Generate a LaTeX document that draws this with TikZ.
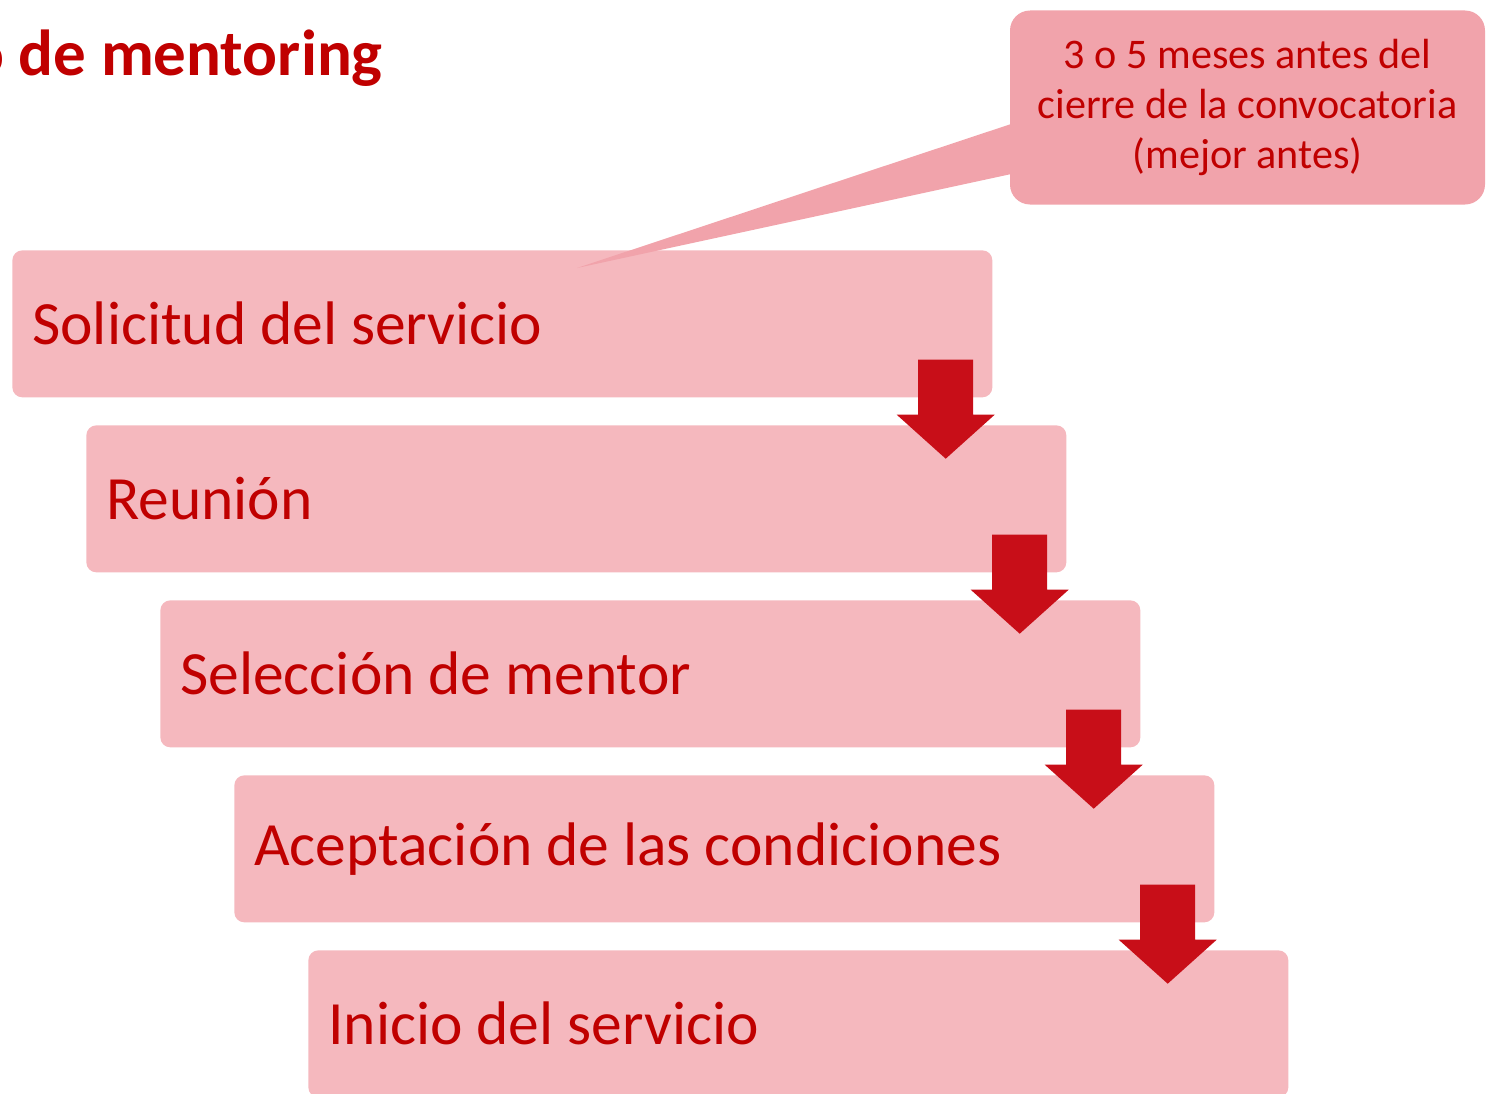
\documentclass[tikz,border=0pt]{standalone}
\usepackage{fontspec}
\setmainfont{Carlito}
\usepackage{xcolor}
\definecolor{MentorRed}{RGB}{192,0,0}
\definecolor{ArrowRed}{RGB}{200,14,24}
\definecolor{StagePink}{RGB}{245,184,190}
\definecolor{NotePink}{RGB}{241,163,171}
\usepackage{tikz}
\usetikzlibrary{calc, positioning}

\tikzset{
	stagebox/.style={fill=StagePink, text=MentorRed, rounded corners=0.2cm, anchor=north west,
		minimum width=19.6cm, minimum height=2.94cm, text width=18.8cm, inner xsep=0.4cm,
		align=flush left, font=\fontsize{35}{42}\selectfont},
	notebox/.style={fill=NotePink, text=MentorRed, rounded corners=0.4cm,
		minimum width=9.5cm, minimum height=3.88cm, align=center,
		font=\fontsize{24}{28.45}\selectfont},
	stepfill/.style={fill=ArrowRed}
}
\newcommand{\stepdown}[1]{\fill[stepfill] (#1) ++(-0.55,0) -- ++(1.1,0) -- ++(0,-1.1) -- ++(0.43,0) -- ++(-0.98,-0.88) -- ++(-0.98,0.88) -- ++(0.43,0) -- cycle;}

\begin{document}
\begin{tikzpicture}[scale=1, transform shape]
			\useasboundingbox (0,0) rectangle (29.72,-21.88);
			\clip (0,0) rectangle (29.72,-21.88);
			% title
			\node[anchor=base east, text=MentorRed, font=\fontsize{37}{44}\selectfont\bfseries, inner sep=0] (title) at (7.66,-1.5) {o de mentoring};
			% stages
			\node[stagebox] (s1) at (0.24,-5.0) {Solicitud del servicio};
			\node[stagebox] (s2) at (1.72,-8.5) {Reunión};
			\node[stagebox] (s3) at (3.20,-12.0) {Selección de mentor};
			\node[stagebox] (s4) at (4.68,-15.5) {Aceptación de las condiciones};
			\node[stagebox] (s5) at (6.16,-19.0) {Inicio del servicio};
			% block arrows between stages
			\foreach \a in {s1, s2, s3, s4} {
				\stepdown{$(\a.south east)+(-0.94,0.76)$}
			}
			% callout
			\coordinate (tip) at (11.54,-5.36);
			\node[notebox] (note) at (24.95,-2.15) {3 o 5 meses antes del\\cierre de la convocatoria\\(mejor antes)};
			\fill[NotePink] ($(note.north west)+(0.02,-2.28)$) -- (tip) -- ($(note.north west)+(0.02,-3.28)$) -- cycle;
			\end{tikzpicture}
\end{document}
